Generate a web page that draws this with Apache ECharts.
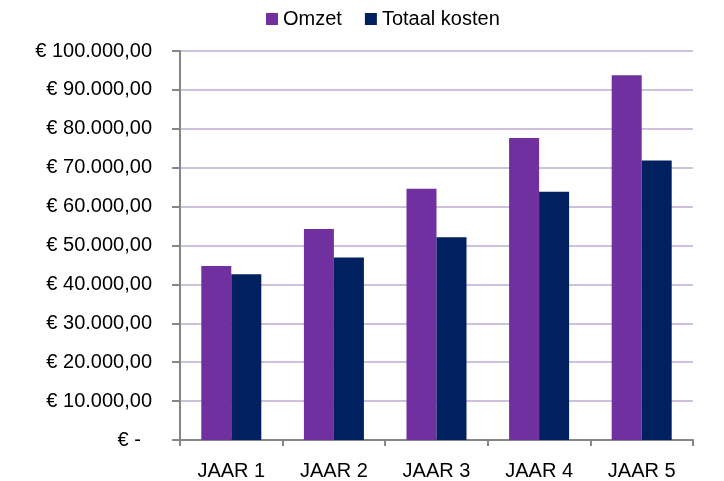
<!DOCTYPE html>
<html>
<head>
<meta charset="utf-8">
<script src="https://cdn.jsdelivr.net/npm/echarts@6/dist/echarts.min.js"></script>
<style>
  html, body { margin: 0; padding: 0; background: #fff; }
  #chart { width: 724px; height: 481px; }
</style>
</head>
<body>
<div id="chart"></div>
<script>
// data
const categories = ['JAAR 1', 'JAAR 2', 'JAAR 3', 'JAAR 4', 'JAAR 5'];
const omzet = [44760, 54240, 64580, 77640, 93780];
const totaalKosten = [42640, 46910, 52110, 63820, 71830];
const yTicks = { min: 0, max: 100000, step: 10000 };

const font = 'Liberation Sans, Arial, sans-serif';

// € 10.000,00 style, zero shown as "€ -"
function euro(v) {
  if (v === 0) return '€ -  ';
  const whole = String(Math.round(v)).replace(/\B(?=(\d{3})+(?!\d))/g, '.');
  return '€ ' + whole + ',00';
}

const chart = echarts.init(document.getElementById('chart'));

chart.setOption({
  animation: false,
  backgroundColor: '#fff',
  textStyle: { fontFamily: font },
  legend: {
    left: 261,
    top: 4,
    itemWidth: 12,
    itemHeight: 12,
    itemGap: 23,
    icon: 'rect',
    textStyle: { fontSize: 20, color: '#000', fontFamily: font },
    data: ['Omzet', 'Totaal kosten']
  },
  grid: { left: 180, right: 31, top: 51, bottom: 39.5 },
  xAxis: {
    type: 'category',
    data: categories,
    axisLine: { lineStyle: { color: '#868686', width: 2 } },
    axisTick: { show: true, length: 6, lineStyle: { color: '#868686', width: 2 } },
    axisLabel: { fontSize: 20, color: '#000', margin: 21, fontFamily: font }
  },
  yAxis: {
    type: 'value',
    min: yTicks.min,
    max: yTicks.max,
    interval: yTicks.step,
    axisLine: { show: true, lineStyle: { color: '#868686', width: 2 } },
    axisTick: { show: true, length: 8, lineStyle: { color: '#868686', width: 2 } },
    axisLabel: { fontSize: 20, color: '#000', margin: 28, fontFamily: font, formatter: euro },
    splitLine: { lineStyle: { color: '#CDC1DC', width: 2 } }
  },
  series: [
    {
      name: 'Omzet',
      type: 'bar',
      data: omzet,
      barWidth: 30,
      barGap: '0%',
      itemStyle: { color: '#7030A0' }
    },
    {
      name: 'Totaal kosten',
      type: 'bar',
      data: totaalKosten,
      barWidth: 30,
      itemStyle: { color: '#002060' }
    }
  ]
});
</script>
</body>
</html>
